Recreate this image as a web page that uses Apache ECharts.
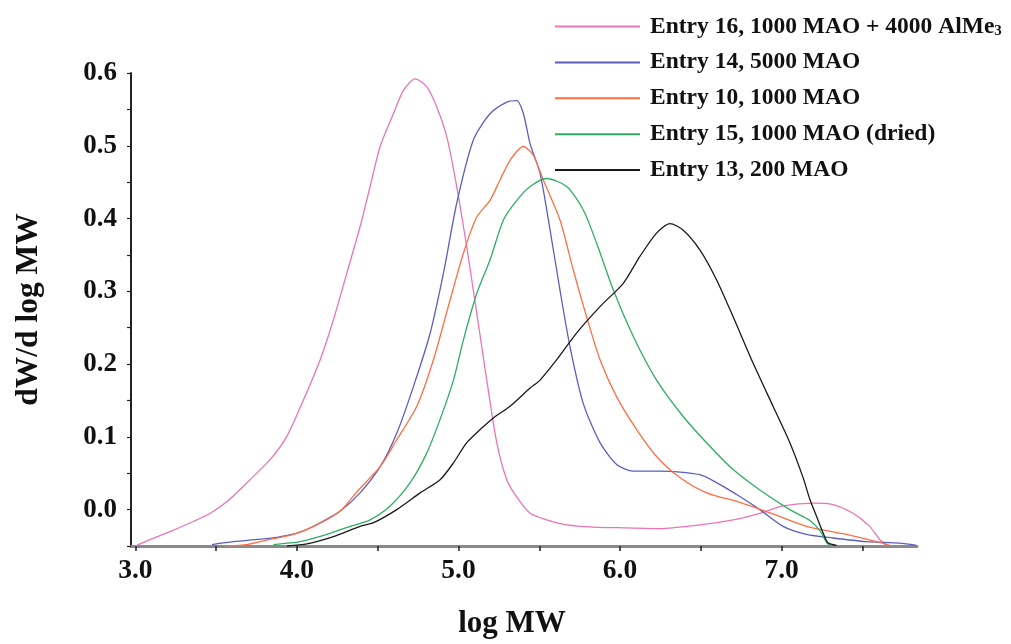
<!DOCTYPE html>
<html>
<head>
<meta charset="utf-8">
<script src="https://cdn.jsdelivr.net/npm/echarts@6/dist/echarts.min.js"></script>
<style>
html,body{margin:0;padding:0;background:#fff;}
#chart{width:1011px;height:644px;}
</style>
</head>
<body>
<div id="chart"></div>
<script>
const seriesNames = [
  'Entry 16, 1000 MAO + 4000 AlMe3',
  'Entry 14, 5000 MAO',
  'Entry 10, 1000 MAO',
  'Entry 15, 1000 MAO (dried)',
  'Entry 13, 200 MAO'
];
const seriesColors = ['#ea74b6', '#5a5fbe', '#ff6e45', '#2eae64', '#1a1a1a'];

const entry16X = [3.0,3.093,3.196,3.361,3.464,3.567,3.691,3.835,3.938,4.041,4.144,4.226,4.309,4.391,4.453,4.515,4.597,4.659,4.731,4.804,4.866,4.928,4.989,5.051,5.113,5.175,5.237,5.299,5.361,5.443,5.546,5.670,5.834,6.041,6.247,6.494,6.70,6.865,7.009,7.195,7.318,7.442,7.545,7.607,7.649];
const entry16Y = [-0.050,-0.041,-0.032,-0.016,-0.005,0.011,0.037,0.069,0.101,0.151,0.206,0.261,0.325,0.389,0.444,0.499,0.544,0.576,0.592,0.581,0.553,0.512,0.444,0.361,0.270,0.178,0.092,0.041,0.017,-0.005,-0.014,-0.021,-0.024,-0.025,-0.026,-0.021,-0.014,-0.005,0.005,0.009,0.007,-0.005,-0.023,-0.041,-0.049];

const entry14X = [3.474,3.608,3.753,3.876,4.020,4.144,4.268,4.391,4.515,4.618,4.721,4.824,4.907,4.989,5.092,5.195,5.299,5.361,5.402,5.443,5.505,5.567,5.628,5.690,5.772,5.876,5.979,6.082,6.247,6.494,6.597,6.741,6.865,7.009,7.154,7.318,7.525,7.731,7.834];
const entry14Y = [-0.048,-0.044,-0.041,-0.038,-0.031,-0.018,-0.002,0.023,0.059,0.105,0.169,0.242,0.325,0.421,0.508,0.544,0.560,0.562,0.544,0.503,0.462,0.384,0.302,0.224,0.146,0.092,0.062,0.053,0.053,0.048,0.037,0.018,0.0,-0.023,-0.034,-0.039,-0.044,-0.046,-0.049];

const entry10X = [3.567,3.691,3.835,3.979,4.124,4.268,4.381,4.515,4.618,4.742,4.845,4.948,5.030,5.113,5.195,5.257,5.319,5.401,5.463,5.525,5.628,5.711,5.793,5.876,5.979,6.103,6.226,6.370,6.536,6.741,6.947,7.154,7.401,7.587,7.669];
const entry10Y = [-0.050,-0.048,-0.041,-0.034,-0.021,-0.002,0.027,0.059,0.096,0.142,0.206,0.288,0.352,0.402,0.425,0.453,0.480,0.499,0.487,0.453,0.398,0.329,0.265,0.206,0.155,0.110,0.073,0.044,0.023,0.010,-0.006,-0.023,-0.034,-0.044,-0.049];

const entry15X = [3.855,4.020,4.186,4.330,4.453,4.577,4.701,4.804,4.886,4.969,5.030,5.113,5.195,5.278,5.361,5.443,5.546,5.670,5.772,5.855,5.958,6.082,6.226,6.391,6.556,6.700,6.865,7.051,7.175,7.237,7.278,7.298];
const entry15Y = [-0.048,-0.044,-0.034,-0.023,-0.014,0.005,0.037,0.078,0.124,0.178,0.233,0.297,0.343,0.398,0.425,0.444,0.455,0.444,0.412,0.366,0.302,0.238,0.178,0.128,0.087,0.055,0.027,0.0,-0.015,-0.029,-0.045,-0.049];

const entry13X = [3.938,4.062,4.226,4.391,4.474,4.618,4.763,4.886,4.968,5.051,5.134,5.216,5.319,5.443,5.505,5.608,5.732,5.876,6.020,6.123,6.226,6.309,6.391,6.494,6.597,6.700,6.824,6.947,7.051,7.133,7.175,7.216,7.257,7.288,7.340];
const entry13Y = [-0.050,-0.047,-0.037,-0.023,-0.018,0.0,0.023,0.041,0.064,0.092,0.110,0.126,0.142,0.167,0.178,0.206,0.243,0.279,0.311,0.348,0.380,0.393,0.384,0.357,0.316,0.265,0.201,0.142,0.092,0.044,0.014,-0.009,-0.032,-0.046,-0.049];

const xTickValues = [3.0,3.5,4.0,4.5,5.0,5.5,6.0,6.5,7.0,7.5];
const xLabelValues = [3.0,4.0,5.0,6.0,7.0];

const allX = [entry16X, entry14X, entry10X, entry15X, entry13X];
const allY = [entry16Y, entry14Y, entry10Y, entry15Y, entry13Y];

const FONT = '"Liberation Serif", "Times New Roman", serif';

const series = seriesNames.map((name, i) => ({
  name: name,
  type: 'line',
  data: allX[i].map((x, k) => [x, allY[i][k]]),
  showSymbol: false,
  smooth: 0.25,
  lineStyle: { color: seriesColors[i], width: 1.3 },
  itemStyle: { color: seriesColors[i] },
  z: 2
}));

const chart = echarts.init(document.getElementById('chart'), null, { renderer: 'canvas' });
chart.setOption({
  backgroundColor: '#ffffff',
  animation: false,
  grid: { left: 131, top: 73, right: 94, bottom: 97 },
  legend: {
    orient: 'vertical',
    left: 555,
    top: 14.5,
    padding: 0,
    icon: 'rect',
    itemWidth: 85,
    itemHeight: 2,
    itemGap: 11.9,
    align: 'left',
    data: seriesNames,
    formatter: function (name) {
      if (name === seriesNames[0]) {
        return '{n|Entry 16, 1000 MAO + 4000 AlMe}{s|3}';
      }
      return '{n|' + name + '}';
    },
    textStyle: {
      fontFamily: FONT,
      fontWeight: 'bold',
      fontSize: 23.5,
      color: '#111',
      padding: [0, 0, 0, 5],
      rich: {
        n: { fontFamily: FONT, fontWeight: 'bold', fontSize: 23.5, lineHeight: 24, color: '#111' },
        s: { fontFamily: FONT, fontWeight: 'bold', fontSize: 15, lineHeight: 10, verticalAlign: 'bottom', color: '#111' }
      }
    }
  },
  xAxis: {
    type: 'value',
    min: 2.973,
    max: 7.838,
    name: 'log MW',
    nameLocation: 'middle',
    nameGap: 62,
    nameTextStyle: { fontFamily: FONT, fontWeight: 'bold', fontSize: 31, color: '#111', padding: [0, 24, 0, 0] },
    axisLine: { onZero: false, lineStyle: { color: '#8a8a8a', width: 3 } },
    axisTick: { show: true, customValues: xTickValues, length: 5, lineStyle: { color: '#222', width: 1.5 } },
    axisLabel: {
      customValues: xLabelValues,
      formatter: v => Number(v).toFixed(1),
      fontFamily: FONT, fontWeight: 'bold', fontSize: 27.5, color: '#111', margin: 11
    },
    splitLine: { show: false }
  },
  yAxis: {
    type: 'value',
    min: -0.05,
    max: 0.6,
    interval: 0.05,
    name: 'dW/d log MW',
    nameLocation: 'middle',
    nameGap: 86,
    nameRotate: 90,
    nameTextStyle: { fontFamily: FONT, fontWeight: 'bold', fontSize: 31.5, color: '#111' },
    axisLine: { show: true, onZero: false, lineStyle: { color: '#222', width: 2 } },
    axisTick: { show: true, length: 4, lineStyle: { color: '#222', width: 1.2 } },
    axisLabel: {
      formatter: function (v) {
        const r = Math.round(v * 100);
        if (Math.abs(r) % 10 !== 0) return '';
        return (r / 100).toFixed(1);
      },
      fontFamily: FONT, fontWeight: 'bold', fontSize: 27, color: '#111', margin: 14
    },
    splitLine: { show: false }
  },
  series: series
});
</script>
</body>
</html>
